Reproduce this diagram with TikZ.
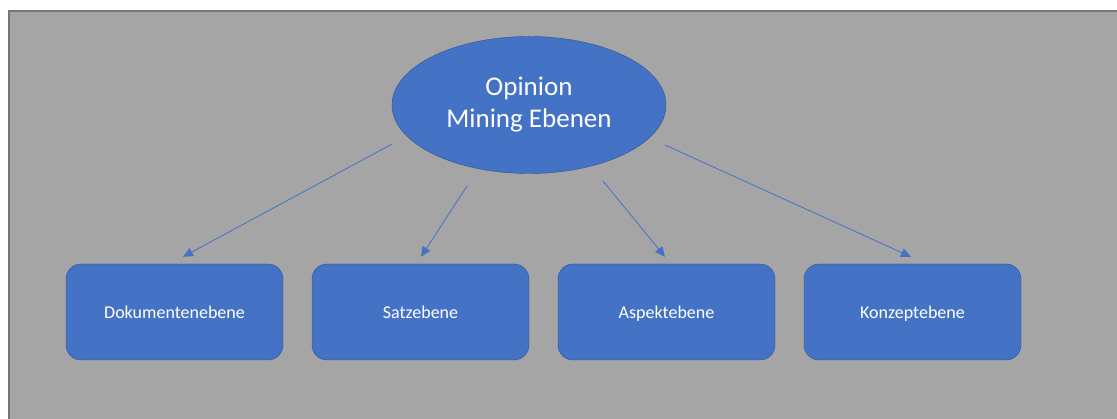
\documentclass[tikz,border=0pt]{standalone}
\usepackage{fontspec}
\setmainfont{Carlito}
\usetikzlibrary{shapes.geometric,arrows.meta}
\definecolor{officeblue}{HTML}{4472C4}
\definecolor{officeedge}{HTML}{2F528F}
\definecolor{slidegrey}{HTML}{A5A5A5}
\definecolor{slideedge}{HTML}{767676}
\tikzset{layerbox/.style={draw=officeedge,fill=officeblue,rectangle,rounded corners=15pt,
		minimum width=217pt,minimum height=96pt,inner sep=0pt,text=white,
		text height=13.5pt,text depth=0pt,font=\fontsize{18}{22}\selectfont}
}
\tikzstyle{rootnode}=[draw=officeedge,fill=officeblue,ellipse,minimum width=274pt,minimum height=137pt,
	inner sep=0pt,text=white,align=center,font=\fontsize{27}{32}\selectfont]

\begin{document}
\begin{tikzpicture}[x=1pt,y=-1pt]
			\useasboundingbox (0,0) rectangle (1117,419);
			\clip (0,0) rectangle (1117,419);
			\draw[slideedge,fill=slidegrey,line width=2pt] (9,11) rectangle (1130,430);
			\node (O)[rootnode] at (529,105) {Opinion\\Mining Ebenen};
			\begin{scope}[>={Triangle[length=10pt,width=9pt]}] %filled tips
				\foreach \nr/\txt/\sx/\sy/\dx in {1/Dokumentenebene/392/144/8.5, 2/Satzebene/467/186/0.5,
					3/Aspektebene/603/181/-1.5, 4/Konzeptebene/665/145/-1.5}{
					\node (L\nr)[layerbox] at ({174.5+(\nr-1)*246},312) {\txt};
					\coordinate (S\nr) at (\sx,\sy);
					\draw[->,officeblue,line width=0.8pt] (S\nr) -- ([xshift=\dx pt,yshift=7pt]L\nr.north);
				}
			\end{scope}
		\end{tikzpicture}
\end{document}
